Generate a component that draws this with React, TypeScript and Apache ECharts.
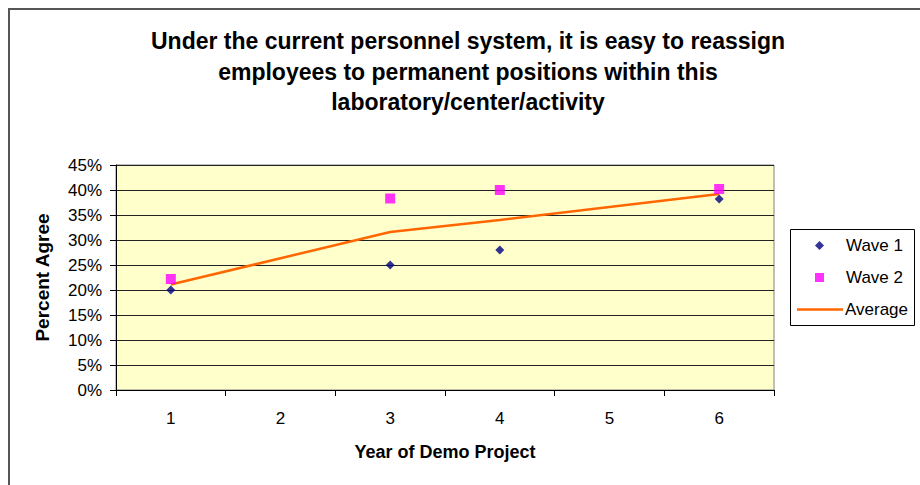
import React, { useEffect, useRef } from "react";
import * as echarts from "echarts";

const categories = ["1", "2", "3", "4", "5", "6"];
const wave1 = [20, null, 25, 28, null, 38.2];
const wave2 = [22.2, null, 38.3, 40, null, 40.2];
const average = [21.1, null, 31.6, 34, null, 39.2];
const yTicks = { min: 0, max: 45, interval: 5 };
const titleText =
  "Under the current personnel system, it is easy to reassign\nemployees to permanent positions within this\nlaboratory/center/activity";

const FONT = "'Liberation Sans', Arial, sans-serif";

const legendText = { fontFamily: FONT, fontSize: 17, color: "#000" };

export default function App() {
  const ref = useRef<HTMLDivElement>(null);
  useEffect(() => {
    if (!ref.current) return;
    const chart = echarts.init(ref.current, null, { renderer: "svg" });
    chart.setOption({
      animation: false,
      backgroundColor: "#ffffff",
      textStyle: { fontFamily: FONT, color: "#000" },
      graphic: [
        {
          type: "line",
          shape: { x1: 9, y1: 9, x2: 920, y2: 9 },
          style: { stroke: "#555", lineWidth: 2 },
        },
        {
          type: "line",
          shape: { x1: 9, y1: 8, x2: 9, y2: 485 },
          style: { stroke: "#555", lineWidth: 2 },
        },
        {
          type: "rect",
          shape: { x: 790.5, y: 229.5, width: 124, height: 96 },
          style: { fill: "#fff", stroke: "#000", lineWidth: 1 },
          z: -1,
        },
        {
          type: "text",
          x: 468,
          y: 26,
          style: {
            text: titleText,
            textAlign: "center",
            fontFamily: FONT,
            fontWeight: "bold",
            fontSize: 23,
            lineHeight: 30.5,
            fill: "#000",
          },
        },
      ],
      grid: {
        left: 116,
        right: 146,
        top: 165,
        bottom: 95,
        show: true,
        backgroundColor: "#FFFFCC",
        borderColor: "#808080",
        borderWidth: 1,
      },
      legend: [
        {
          left: 815,
          top: 237,
          padding: 0,
          itemWidth: 9,
          itemHeight: 9,
          itemGap: 0,
          textStyle: { ...legendText, padding: [0, 0, 0, 17] },
          data: [{ name: "Wave 1", icon: "diamond" }],
        },
        {
          left: 815,
          top: 269,
          padding: 0,
          itemWidth: 9,
          itemHeight: 9,
          itemGap: 0,
          textStyle: { ...legendText, padding: [0, 0, 0, 17] },
          data: [{ name: "Wave 2", icon: "rect" }],
        },
        {
          left: 797,
          top: 301,
          padding: 0,
          itemWidth: 46,
          itemHeight: 2.5,
          itemGap: 0,
          textStyle: { ...legendText, padding: [0, 0, 0, -3] },
          data: [{ name: "Average", icon: "rect" }],
        },
      ],
      xAxis: {
        type: "category",
        data: categories,
        boundaryGap: true,
        name: "Year of Demo Project",
        nameLocation: "middle",
        nameGap: 53,
        nameTextStyle: { fontFamily: FONT, fontWeight: "bold", fontSize: 18, color: "#000" },
        axisLine: { lineStyle: { color: "#000", width: 1 } },
        axisTick: { show: true, length: 6, lineStyle: { color: "#000" } },
        axisLabel: { fontFamily: FONT, fontSize: 17, color: "#000", margin: 20 },
        splitLine: { show: false },
      },
      yAxis: {
        type: "value",
        min: yTicks.min,
        max: yTicks.max,
        interval: yTicks.interval,
        name: "Percent Agree",
        nameLocation: "middle",
        nameGap: 64,
        nameTextStyle: { fontFamily: FONT, fontWeight: "bold", fontSize: 19, color: "#000" },
        axisLine: { show: true, lineStyle: { color: "#000", width: 1 } },
        axisTick: { show: true, length: 6, lineStyle: { color: "#000" } },
        axisLabel: { fontFamily: FONT, fontSize: 17, color: "#000", margin: 14, formatter: "{value}%" },
        splitLine: { show: true, lineStyle: { color: "#222", width: 1 } },
      },
      series: [
        {
          name: "Average",
          type: "line",
          data: average,
          connectNulls: true,
          symbol: "none",
          lineStyle: { color: "#FF6600", width: 2.5 },
          itemStyle: { color: "#FF6600" },
          z: 2,
        },
        {
          name: "Wave 1",
          type: "scatter",
          data: wave1,
          symbol: "diamond",
          symbolSize: 9,
          itemStyle: { color: "#000080" },
          z: 3,
        },
        {
          name: "Wave 2",
          type: "scatter",
          data: wave2,
          symbol: "rect",
          symbolSize: 10,
          itemStyle: { color: "#FF00FF" },
          z: 3,
        },
      ],
    });
    return () => chart.dispose();
  }, []);
  return (
    <div
      ref={ref}
      style={{ position: "fixed", left: 0, top: 0, width: 920, height: 485 }}
    />
  );
}
